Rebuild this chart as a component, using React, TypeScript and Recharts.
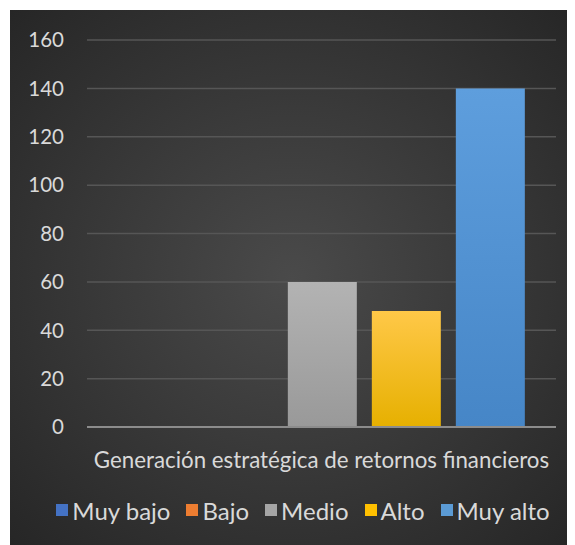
import { BarChart, Bar, CartesianGrid, XAxis, YAxis, Legend } from "recharts";

const categories = ["Generación estratégica de retornos financieros"];
const seriesNames = ["Muy bajo", "Bajo", "Medio", "Alto", "Muy alto"];
const seriesValues = [0, 0, 60, 48, 140];
const yTicks = [0, 20, 40, 60, 80, 100, 120, 140, 160];

const colors = ["#4472C4", "#ED7D31", "#A5A5A5", "#FFC000", "#5B9BD5"];
const gradTop = ["#5a86d4", "#f59352", "#b3b3b3", "#ffc848", "#5e9edd"];
const gradBottom = ["#3a64b0", "#d86c24", "#999999", "#e6b000", "#4686c7"];

const data = categories.map((c) => {
    const row: Record<string, string | number> = { category: c };
    seriesNames.forEach((s, i) => {
        row[s] = seriesValues[i];
    });
    return row;
});

const font = "Lato, 'Open Sans', sans-serif";
const textColor = "#d9d9d9";

function LegendContent() {
    return (
        <div
            style={{
                height: 30,
                display: "flex",
                justifyContent: "center",
                alignItems: "center",
                gap: 16,
                fontFamily: font,
                fontSize: 24,
                color: textColor,
                paddingLeft: 40,
            }}
        >
            {seriesNames.map((s, i) => (
                <div key={s} style={{ display: "flex", alignItems: "center" }}>
                    <span
                        style={{
                            width: 12,
                            height: 12,
                            background: colors[i],
                            marginRight: 4,
                            display: "inline-block",
                        }}
                    />
                    {s}
                </div>
            ))}
        </div>
    );
}

export default function App() {
    return (
        <div
            style={{
                width: 565,
                height: 535,
                marginLeft: 2,
                marginTop: 2,
                background:
                    "radial-gradient(ellipse at 50% 50%, #4a4a4a 0%, #3a3a3a 45%, #262626 100%)",
                overflow: "hidden",
            }}
        >
            <BarChart
                width={565}
                height={535}
                data={data}
                margin={{ top: 30, right: 19, left: 0, bottom: 20 }}
                barCategoryGap="7%"
                barGap={15}
            >
                <defs>
                    {seriesNames.map((s, i) => (
                        <linearGradient key={s} id={`g${i}`} x1="0" y1="0" x2="0" y2="1">
                            <stop offset="0%" stopColor={gradTop[i]} />
                            <stop offset="100%" stopColor={gradBottom[i]} />
                        </linearGradient>
                    ))}
                </defs>
                <CartesianGrid vertical={false} stroke="#565656" strokeWidth={1.5} />
                <XAxis
                    dataKey="category"
                    height={68}
                    tickSize={0}
                    tickMargin={25}
                    axisLine={{ stroke: "#8c8c8c", strokeWidth: 2 }}
                    tick={{ fill: textColor, fontSize: 22.3, fontFamily: font }}
                    interval={0}
                />
                <YAxis
                    width={77}
                    domain={[0, 160]}
                    ticks={yTicks}
                    tickSize={0}
                    tickMargin={23}
                    axisLine={false}
                    tick={{ fill: textColor, fontSize: 20.5, fontFamily: font }}
                />
                <Legend verticalAlign="bottom" content={() => <LegendContent />} />
                {seriesNames.map((s, i) => (
                    <Bar key={s} dataKey={s} fill={`url(#g${i})`} isAnimationActive={false} />
                ))}
            </BarChart>
        </div>
    );
}
